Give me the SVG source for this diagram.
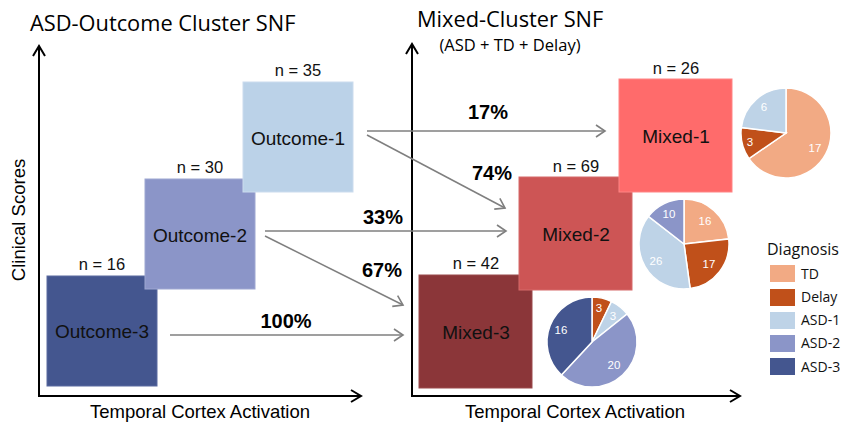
<svg xmlns="http://www.w3.org/2000/svg" width="841" height="425" viewBox="0 0 841 425">
<defs>
<marker id="ah" markerUnits="userSpaceOnUse" markerWidth="20" markerHeight="20" refX="10" refY="7" orient="auto" viewBox="0 0 20 14">
<path d="M1,1 L10,7 L1,13" fill="none" stroke="#7f7f7f" stroke-width="1.6"/>
</marker>
<marker id="ax" markerUnits="userSpaceOnUse" markerWidth="20" markerHeight="20" refX="11" refY="7" orient="auto" viewBox="0 0 20 14">
<path d="M1,1 L11,7 L1,13" fill="none" stroke="#000" stroke-width="2"/>
</marker>
</defs>
<style>
.title{font-family:"Open Sans","Liberation Sans",sans-serif;font-size:21.8px;fill:#000}
.sub{font-family:"Open Sans","Liberation Sans",sans-serif;font-size:16.5px;fill:#000}
.axl{font-family:"Liberation Sans",Arial,sans-serif;font-size:18.5px;fill:#000}
.box{font-family:"Liberation Sans",Arial,sans-serif;font-size:19px;fill:#111;text-anchor:middle}
.n{font-family:"Liberation Sans",Arial,sans-serif;font-size:16.5px;fill:#111;text-anchor:middle}
.pct{font-family:"Liberation Sans",Arial,sans-serif;font-size:20px;font-weight:bold;fill:#000;text-anchor:middle}
.pl{font-family:"Liberation Sans",Arial,sans-serif;font-size:11.5px;fill:#fff;text-anchor:middle}
.leg{font-family:"Open Sans","Liberation Sans",sans-serif;font-size:14px;fill:#111}
.legt{font-family:"Open Sans","Liberation Sans",sans-serif;font-size:16px;fill:#111}
.axis{stroke:#000;stroke-width:2;fill:none}
.conn{stroke:#7f7f7f;stroke-width:1.5;fill:none}
.sl{stroke:#fff;stroke-width:1.5}
.td{fill:#F2AA84}.dl{fill:#C0501A}.a1{fill:#BED3E7}.a2{fill:#8B95C8}.a3{fill:#44568F}
</style>
<rect width="841" height="425" fill="#fff"/>

<text class="title" x="30" y="31">ASD-Outcome Cluster SNF</text>
<text class="title" x="417" y="27">Mixed-Cluster SNF</text>
<text class="sub" x="510" y="51" text-anchor="middle">(ASD + TD + Delay)</text>

<g id="axes">
<path class="axis" d="M39,396 L39,46" marker-end="url(#ax)"/>
<path class="axis" d="M38,396 L361,396" marker-end="url(#ax)"/>
<path class="axis" d="M412,396 L412,44" marker-end="url(#ax)"/>
<path class="axis" d="M411,396 L740,396" marker-end="url(#ax)"/>
<text class="axl" transform="translate(25,220) rotate(-90)" text-anchor="middle">Clinical Scores</text>
<text class="axl" x="200" y="418" text-anchor="middle">Temporal Cortex Activation</text>
<text class="axl" x="575" y="418" text-anchor="middle">Temporal Cortex Activation</text>
</g>

<g id="outcome-3">
<rect x="47" y="276" width="110" height="110" fill="#44568F" stroke="#5a6aa0" stroke-width="1"/>
<text class="box" x="102" y="338">Outcome-3</text>
<text class="n" x="102" y="270">n = 16</text>
</g>
<g id="outcome-2">
<rect x="145" y="179" width="110" height="110" fill="#8B95C8" stroke="#9ea7d2" stroke-width="1"/>
<text class="box" x="200" y="242">Outcome-2</text>
<text class="n" x="200" y="173">n = 30</text>
</g>
<g id="outcome-1">
<rect x="243" y="82" width="110" height="110" fill="#BBD2E8" stroke="#cbdcee" stroke-width="1"/>
<text class="box" x="298" y="145">Outcome-1</text>
<text class="n" x="298" y="76">n = 35</text>
</g>

<g id="mixed-3">
<rect x="419" y="275" width="113" height="113" fill="#8B3639" stroke="#9a4a4d" stroke-width="1"/>
<text class="box" x="476" y="339">Mixed-3</text>
<text class="n" x="476" y="269">n = 42</text>
</g>
<g id="mixed-2">
<rect x="519" y="177" width="113" height="113" fill="#CD5555" stroke="#d66a6a" stroke-width="1"/>
<text class="box" x="576" y="241">Mixed-2</text>
<text class="n" x="576" y="172">n = 69</text>
</g>
<g id="mixed-1">
<rect x="619" y="79" width="113" height="113" fill="#FF6B6B" stroke="#ff8585" stroke-width="1"/>
<text class="box" x="676" y="143">Mixed-1</text>
<text class="n" x="676" y="74">n = 26</text>
</g>

<g id="connectors">
<path class="conn" d="M367,131 L605,131" marker-end="url(#ah)"/>
<path class="conn" d="M367,135 L505,208" marker-end="url(#ah)"/>
<path class="conn" d="M265,231 L506,231" marker-end="url(#ah)"/>
<path class="conn" d="M265,236 L403,305" marker-end="url(#ah)"/>
<path class="conn" d="M170,335 L403,335" marker-end="url(#ah)"/>
<text class="pct" x="488" y="119">17%</text>
<text class="pct" x="492" y="180">74%</text>
<text class="pct" x="383" y="224">33%</text>
<text class="pct" x="382" y="277">67%</text>
<text class="pct" x="286" y="328">100%</text>
</g>

<g id="pie-mixed-1">
<path class="td sl" d="M786,133 L786,88 A45,45 0 1 1 748.96,158.56 Z"/>
<path class="dl sl" d="M786,133 L748.96,158.56 A45,45 0 0 1 741.33,127.58 Z"/>
<path class="a1 sl" d="M786,133 L741.33,127.58 A45,45 0 0 1 786,88 Z"/>
<text class="pl" x="815" y="152">17</text>
<text class="pl" x="750" y="146">3</text>
<text class="pl" x="764" y="111">6</text>
</g>
<g id="pie-mixed-2">
<path class="td sl" d="M684,244 L684,199 A45,45 0 0 1 728.71,238.89 Z"/>
<path class="dl sl" d="M684,244 L728.71,238.89 A45,45 0 0 1 690.13,288.58 Z"/>
<path class="a1 sl" d="M684,244 L690.13,288.58 A45,45 0 0 1 648.45,216.41 Z"/>
<path class="a2 sl" d="M684,244 L648.45,216.41 A45,45 0 0 1 684,199 Z"/>
<text class="pl" x="705" y="225">16</text>
<text class="pl" x="709" y="268">17</text>
<text class="pl" x="656" y="265">26</text>
<text class="pl" x="669" y="218">10</text>
</g>
<g id="pie-mixed-3">
<path class="dl sl" d="M592,342 L592,297 A45,45 0 0 1 611.52,301.46 Z"/>
<path class="a1 sl" d="M592,342 L611.52,301.46 A45,45 0 0 1 627.18,313.94 Z"/>
<path class="a2 sl" d="M592,342 L627.18,313.94 A45,45 0 0 1 561.39,374.99 Z"/>
<path class="a3 sl" d="M592,342 L561.39,374.99 A45,45 0 0 1 592,297 Z"/>
<text class="pl" x="599" y="312">3</text>
<text class="pl" x="613" y="320">3</text>
<text class="pl" x="561" y="334">16</text>
<text class="pl" x="614" y="369">20</text>
</g>

<g id="legend">
<text class="legt" x="767" y="255">Diagnosis</text>
<rect class="td" x="770" y="265" width="25" height="17"/>
<text class="leg" x="801" y="279">TD</text>
<rect class="dl" x="770" y="289" width="25" height="17"/>
<text class="leg" x="801" y="302">Delay</text>
<rect class="a1" x="770" y="312" width="25" height="17"/>
<text class="leg" x="801" y="325">ASD-1</text>
<rect class="a2" x="770" y="335" width="25" height="17"/>
<text class="leg" x="801" y="348">ASD-2</text>
<rect class="a3" x="770" y="358" width="25" height="17"/>
<text class="leg" x="801" y="372">ASD-3</text>
</g>
</svg>
